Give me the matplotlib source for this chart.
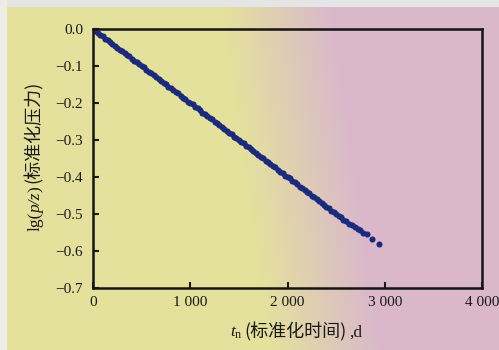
import numpy as np
import matplotlib
matplotlib.use("Agg")
import matplotlib.pyplot as plt
from matplotlib.transforms import IdentityTransform

plt.rcParams["mathtext.fontset"] = "custom"
plt.rcParams["mathtext.rm"] = "Liberation Serif"
plt.rcParams["mathtext.it"] = "Liberation Serif:italic"

# ---- data ----
t_norm = [0, 25, 50, 75, 100, 125, 150, 175, 200, 225, 250, 275, 300, 325, 350, 375,
          400, 425, 450, 475, 500, 525, 550, 575, 600, 625, 650, 675, 700, 725, 750, 775,
          800, 825, 850, 875, 900, 925, 950, 975, 1000, 1025, 1050, 1075, 1100, 1125,
          1150, 1175, 1200, 1225, 1250, 1275, 1300, 1325, 1350, 1375, 1400, 1425, 1450,
          1475, 1500, 1525, 1550, 1575, 1600, 1625, 1650, 1675, 1700, 1725, 1750, 1775,
          1800, 1825, 1850, 1875, 1900, 1925, 1950, 1975, 2000, 2025, 2050, 2075, 2100,
          2125, 2150, 2175, 2200, 2225, 2250, 2275, 2300, 2325, 2350, 2375, 2400, 2425,
          2450, 2475, 2500, 2525, 2550, 2575, 2600, 2630, 2660, 2690, 2720, 2745, 2780,
          2818, 2869, 2941]
lg_pz = [0.000, -0.005, -0.011, -0.015, -0.019, -0.026, -0.030, -0.034, -0.041, -0.045,
         -0.050, -0.056, -0.059, -0.065, -0.071, -0.074, -0.080, -0.086, -0.089, -0.095,
         -0.101, -0.104, -0.110, -0.116, -0.119, -0.125, -0.131, -0.134, -0.140, -0.146,
         -0.149, -0.156, -0.160, -0.164, -0.171, -0.174, -0.180, -0.186, -0.189, -0.196,
         -0.200, -0.204, -0.211, -0.214, -0.220, -0.226, -0.229, -0.236, -0.240, -0.244,
         -0.251, -0.254, -0.260, -0.266, -0.269, -0.276, -0.280, -0.284, -0.291, -0.294,
         -0.300, -0.306, -0.309, -0.316, -0.320, -0.324, -0.331, -0.334, -0.340, -0.346,
         -0.349, -0.356, -0.360, -0.364, -0.371, -0.374, -0.380, -0.386, -0.389, -0.396,
         -0.400, -0.404, -0.411, -0.414, -0.420, -0.426, -0.429, -0.436, -0.440, -0.444,
         -0.451, -0.454, -0.460, -0.466, -0.469, -0.476, -0.480, -0.484, -0.491, -0.494,
         -0.500, -0.506, -0.509, -0.516, -0.520, -0.526, -0.531, -0.535, -0.540, -0.543,
         -0.550, -0.554, -0.568, -0.581]
x_ticks = [0, 1000, 2000, 3000, 4000]
x_tick_labels = ["0", "1 000", "2 000", "3 000", "4 000"]
y_ticks = [0.0, -0.1, -0.2, -0.3, -0.4, -0.5, -0.6, -0.7]
y_tick_labels = ["0.0", "\u22120.1", "\u22120.2", "\u22120.3", "\u22120.4", "\u22120.5",
                 "\u22120.6", "\u22120.7"]

SERIF = "Liberation Serif"
CJK = "Noto Sans CJK SC"

fig = plt.figure(figsize=(4.99, 3.5), dpi=100)
W, H = 499, 350

# paper-like background: yellow on the left, pink on the right
bg = fig.add_axes([0, 0, 1, 1], zorder=-10)
xs = np.linspace(0, 1, W)[None, :]
ys = np.linspace(0, 1, H)[:, None]
mix = np.clip((xs - 0.44 - 0.10 * ys) / 0.22, 0, 1)[:, :, None]
yellow = np.array([0.895, 0.885, 0.615])
pink = np.array([0.855, 0.725, 0.795])
img = (1 - mix) * yellow + mix * pink
img[:7, :, :] = np.array([0.90, 0.90, 0.90])
img[:, :7, :] = np.array([0.93, 0.93, 0.90])
bg.imshow(img, aspect="auto", extent=[0, 1, 0, 1])
bg.set_axis_off()

ax = fig.add_axes([93 / W, 1 - 288 / H, (482 - 93) / W, (288 - 29) / H])
ax.set_facecolor("none")
ax.plot(t_norm, lg_pz, "o", color="#1b2a7c", markersize=4.4, markeredgewidth=0)

ax.set_xlim(0, 4000)
ax.set_ylim(-0.7, 0.0)
ax.set_xticks(x_ticks)
ax.set_xticklabels(x_tick_labels, fontfamily=SERIF, fontsize=11)
ax.set_yticks(y_ticks)
ax.set_yticklabels(y_tick_labels, fontfamily=SERIF, fontsize=11)
ax.tick_params(axis="x", direction="in", length=4, width=1.5, colors="#1a1a1a", pad=6)
ax.tick_params(axis="y", direction="in", length=4, width=1.5, colors="#1a1a1a", pad=7)
for s in ax.spines.values():
    s.set_linewidth(1.8)
    s.set_color("#151515")

renderer = fig.canvas.get_renderer()


def bearing_px(t):
    """Horizontal ink offset that Agg applies unrotated (needed to fix rotated text)."""
    try:
        from matplotlib.backends.backend_agg import get_hinting_flag
        font = renderer._prepare_font(t.get_fontproperties())
        font.set_text(t.get_text(), 0.0, flags=get_hinting_flag())
        xo, _ = font.get_bitmap_offset()
        return xo / 64.0
    except Exception:
        return 0.0


def place_pieces(pieces, cx, cy, rotation):
    """Lay out text pieces of mixed fonts along one baseline, centred at (cx, cy) px."""
    items = []
    total = 0.0
    for s, kw, gap in pieces:
        t = fig.text(0, 0, s, transform=IdentityTransform(), ha="left", va="baseline",
                     rotation_mode="anchor", color="#1a1a1a", **kw)
        w = t.get_window_extent(renderer).width
        items.append((t, w, gap))
        total += w + gap
    pos = -total / 2
    for t, w, gap in items:
        if rotation == 0:
            t.set_position((cx + pos, cy))
        else:
            b = 0.0 if "$" in t.get_text() else bearing_px(t)
            t.set_rotation(90)
            t.set_position((cx - b, cy + pos + b))
        pos += w + gap


xlabel_pieces = [
    (r"$t_{\mathrm{n}}$", dict(fontsize=12.5), 2),
    ("(标准化时间)", dict(fontfamily=CJK, fontsize=13), 2),
    (",d", dict(fontfamily=SERIF, fontsize=12.5), 0),
]
place_pieces(xlabel_pieces, 296, H - 337, 0)

ylabel_pieces = [
    ("lg(", dict(fontfamily=SERIF, fontsize=12.5), 0),
    ("p/z", dict(fontfamily=SERIF, fontstyle="italic", fontsize=12.5), 0),
    (")", dict(fontfamily=SERIF, fontsize=12.5), 2),
    ("(标准化压力)", dict(fontfamily=CJK, fontsize=13), 0),
]
place_pieces(ylabel_pieces, 40, H - 157, 90)

fig.savefig("out.png", dpi=100)
